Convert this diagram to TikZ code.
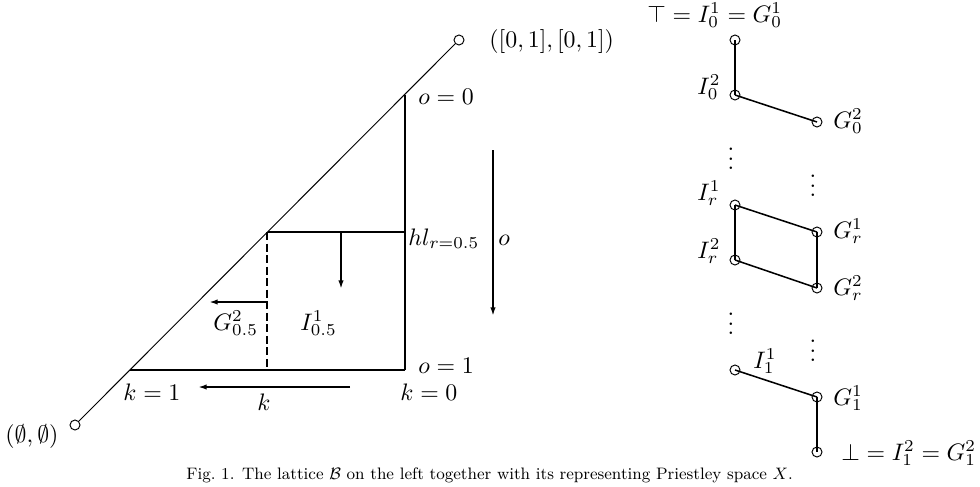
\documentclass[tikz,border=0pt]{standalone}
\usepackage{amssymb}
\usetikzlibrary{arrows.meta}
\tikzset{
  pt/.style={circle,draw,line width=0.5pt,minimum size=5.2pt,inner sep=0pt},
  lbl/.style={anchor=base west,inner sep=0pt,scale=1.24},
  thickln/.style={line width=1.5pt},
  thinln/.style={line width=0.8pt},
  arr/.style={-{Latex[length=4.5pt,width=2.8pt]}},
  dotsn/.style={inner sep=0pt,scale=1.24},
}
\begin{document}
\begin{tikzpicture}[x=0.52pt,y=-0.52pt]
\useasboundingbox (0,0) rectangle (980,486);
% ---- left: lattice B
\node[pt] (bot) at (75,425) {};
\node[pt] (top) at (459,40) {};
\coordinate (A) at (268,232);
\coordinate (B) at (405,232);
\coordinate (C) at (405,370);
\coordinate (D) at (130,370);
\coordinate (E) at (405,95);
\coordinate (F) at (267,370);
\coordinate (Ftop) at (267,232);
\draw[line width=0.5pt] (bot) -- (top);
\draw[thickln] (E) -- (B) -- (C);
\draw[thickln] (C) -- (D);
\draw[thickln] (A) -- (B);
\draw[line width=1.3pt,dash pattern=on 4.2pt off 1.8pt] (Ftop) -- (F);
\coordinate (dn0) at (341,232); \coordinate (dn1) at (341,289);
\draw[thickln,arr] (dn0) -- (dn1);
\coordinate (lf0) at (267,302); \coordinate (lf1) at (209,302);
\draw[thickln,arr] (lf0) -- (lf1);
\coordinate (k0) at (350,387); \coordinate (k1) at (198,387);
\draw[line width=1pt,arr] (k0) -- (k1);
\coordinate (o0) at (493,150); \coordinate (o1) at (493,316);
\draw[line width=1pt,arr] (o0) -- (o1);
\node[lbl] (ltop) at (489,47) {$([0,1],[0,1])$};
\node[lbl] (lbot) at (5,442) {$(\emptyset,\emptyset)$};
\node[lbl] (lo0) at (418,104) {$o=0$};
\node[lbl] (lhl) at (408,245) {$hl_{r=0.5}$};
\node[lbl] (lo) at (498,245) {$o$};
\node[lbl] (lG) at (213,330) {$G^2_{0.5}$};
\node[lbl] (lI) at (300,330) {$I^1_{0.5}$};
\node[lbl] (lo1) at (418,373) {$o=1$};
\node[lbl] (lk1) at (123,400) {$k=1$};
\node[lbl] (lk0) at (400,400) {$k=0$};
\node[lbl] (lk) at (257,410) {$k$};
% ---- right: Priestley space X
\node[pt] (I01) at (735,40) {};
\node[pt] (I02) at (735,95) {};
\node[pt] (G02) at (817,122) {};
\node[pt] (Ir1) at (735,205) {};
\node[pt] (Gr1) at (817,232) {};
\node[pt] (Ir2) at (735,260) {};
\node[pt] (Gr2) at (817,288) {};
\node[pt] (I11) at (735,370) {};
\node[pt] (G11) at (817,397) {};
\node[pt] (G12) at (817,452) {};
\draw[thickln] (I01.center) -- (I02.center);
\draw[thinln] (I02.center) -- (G02.center);
\draw[thinln] (Ir1.center) -- (Gr1.center);
\draw[thickln] (Ir1.center) -- (Ir2.center);
\draw[thickln] (Gr1.center) -- (Gr2.center);
\draw[thinln] (Ir2.center) -- (Gr2.center);
\draw[thinln] (I11.center) -- (G11.center);
\draw[thickln] (G11.center) -- (G12.center);
\node[dotsn] (v1) at (731,152) {$\vdots$};
\node[dotsn] (v2) at (813,179) {$\vdots$};
\node[dotsn] (v3) at (731,317) {$\vdots$};
\node[dotsn] (v4) at (813,344) {$\vdots$};
\node[lbl] (tTop) at (647,22) {$\top=I^1_0=G^1_0$};
\node[lbl] (tI02) at (697,94) {$I^2_0$};
\node[lbl] (tG02) at (833,128) {$G^2_0$};
\node[lbl] (tIr1) at (697,200) {$I^1_r$};
\node[lbl] (tGr1) at (833,238) {$G^1_r$};
\node[lbl] (tIr2) at (697,258) {$I^2_r$};
\node[lbl] (tGr2) at (833,295) {$G^2_r$};
\node[lbl] (tI11) at (753,368) {$I^1_1$};
\node[lbl] (tG11) at (833,405) {$G^1_1$};
\node[lbl] (tBot) at (841,460) {$\bot=I^2_1=G^2_1$};
% ---- caption
\node[anchor=base west,inner sep=0pt,scale=0.959,font=\small] (cap) at (186,479) {Fig.~1. The lattice $\mathcal{B}$ on the left together with its representing Priestley space $X$.};
\end{tikzpicture}
\end{document}
